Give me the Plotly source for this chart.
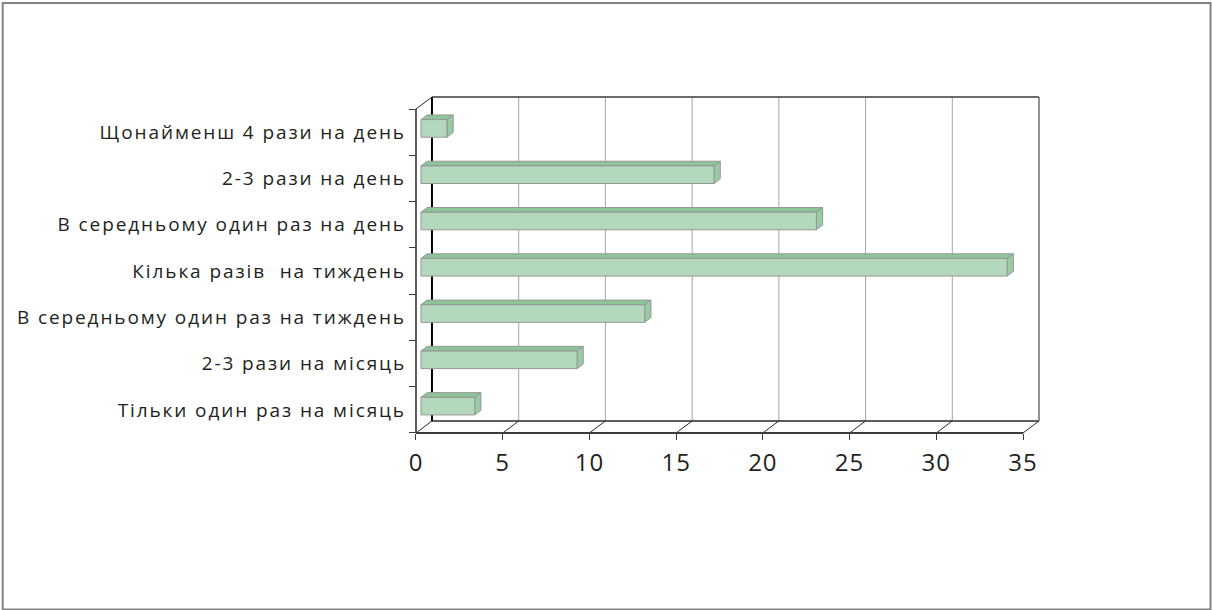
import plotly.graph_objects as go

# Survey categories (top to bottom) and their shares, %
categories = [
    "Щонайменш 4 рази на день",
    "2-3 рази на день",
    "В середньому один раз на день",
    "Кілька разів \u00a0на тиждень",
    "В середньому один раз на тиждень",
    "2-3 рази на місяць",
    "Тільки один раз на місяць",
]
values = [1.5, 16.9, 22.8, 33.8, 12.9, 9.0, 3.1]
x_ticks = [0, 5, 10, 15, 20, 25, 30, 35]

# ---- geometry of the oblique "3-D" box ----
W, H = 1212, 610
X_MAX = 35
N = len(categories)
PX_X = 17.36          # pixels per value unit on the front plane
PX_Y = 46.24          # pixels per category band
ORIGIN = (415.7, 432.7)
DEPTH_PX = (16.0, 12.0)
DX = DEPTH_PX[0] / PX_X
DY = DEPTH_PX[1] / PX_Y
PAD = 6
BAR_FRONT, BAR_BACK = 0.31, 0.70   # bar depth as fraction of box depth
BAR_HALF = 0.19                    # half bar thickness in category units

x_lo, x_hi = -PAD / PX_X, X_MAX + DX + PAD / PX_X
y_lo, y_hi = -PAD / PX_Y, N + DY + PAD / PX_Y
left = ORIGIN[0] - PAD
right = ORIGIN[0] + (X_MAX + DX) * PX_X + PAD
bottom = ORIGIN[1] + PAD
top = ORIGIN[1] - (N + DY) * PX_Y - PAD
pw, ph = right - left, bottom - top

C_FRONT = "rgb(180,216,188)"
C_TOP = "rgb(141,197,152)"
C_SIDE = "rgb(152,203,163)"
C_EDGE = "rgb(150,150,150)"
C_DARK = "rgb(40,40,40)"
C_GRID = "rgb(165,165,165)"

fig = go.Figure()


def add_line(xs, ys, color, width):
    fig.add_trace(go.Scatter(x=xs, y=ys, mode="lines", hoverinfo="skip",
                             line=dict(color=color, width=width),
                             showlegend=False))


# back-wall gridlines
gx, gy = [], []
for t in x_ticks[1:-1]:
    gx += [t + DX, t + DX, None]
    gy += [DY, N + DY, None]
add_line(gx, gy, C_GRID, 1)

# floor lines running into depth
fx, fy = [], []
for t in x_ticks:
    fx += [t, t + DX, None]
    fy += [0, DY, None]
add_line(fx, fy, C_DARK, 1)

# back wall / floor outline
add_line([DX, X_MAX + DX], [DY, DY], C_DARK, 1.5)
add_line([DX, DX], [DY, N + DY], "black", 2)
add_line([DX, X_MAX + DX], [N + DY, N + DY], "rgb(60,60,60)", 1.5)
add_line([X_MAX + DX, X_MAX + DX], [DY, N + DY], "rgb(110,110,110)", 1.5)
# left wall outline
add_line([0, DX], [N, N + DY], C_DARK, 1)
add_line([0, 0], [0, N], C_DARK, 1.5)
# front floor edge
add_line([0, X_MAX], [0, 0], "rgb(60,60,60)", 2)


def add_poly(xs, ys, fill):
    fig.add_trace(go.Scatter(x=xs + [xs[0]], y=ys + [ys[0]], mode="lines",
                             fill="toself", fillcolor=fill, hoverinfo="skip",
                             line=dict(color=C_EDGE, width=1),
                             showlegend=False))


# bars: front face, top face and end face of each prism
for k, (cat, v) in enumerate(zip(categories, values)):
    c = N - k - 0.5
    fx0, fy0 = BAR_FRONT * DX, BAR_FRONT * DY
    bx0, by0 = BAR_BACK * DX, BAR_BACK * DY
    y_b, y_t = c - BAR_HALF, c + BAR_HALF
    add_poly([fx0, v + fx0, v + bx0, bx0],
             [y_t + fy0, y_t + fy0, y_t + by0, y_t + by0], C_TOP)
    add_poly([v + fx0, v + bx0, v + bx0, v + fx0],
             [y_b + fy0, y_b + by0, y_t + by0, y_t + fy0], C_SIDE)
    add_poly([fx0, v + fx0, v + fx0, fx0],
             [y_b + fy0, y_b + fy0, y_t + fy0, y_t + fy0], C_FRONT)

# dummy trace on the tick-only axis
fig.add_trace(go.Scatter(x=[0], y=[0], yaxis="y2", mode="markers",
                         marker=dict(opacity=0), hoverinfo="skip",
                         showlegend=False))

x_pos = (0 - y_lo) / (y_hi - y_lo)
y_pos = (0 - x_lo) / (x_hi - x_lo)

spaced = ['<span style="letter-spacing:1.9px">%s</span>' % c for c in categories]
spaced_x = ['<span style="letter-spacing:1px">%d</span>' % t for t in x_ticks]

fig.update_layout(
    width=W, height=H,
    margin=dict(l=left, r=W - right, t=top, b=H - bottom, pad=0),
    paper_bgcolor="white", plot_bgcolor="rgba(0,0,0,0)",
    font=dict(family="Open Sans", color="rgb(35,31,32)"),
    xaxis=dict(range=[x_lo, x_hi], anchor="free", position=x_pos,
               tickvals=x_ticks, ticktext=spaced_x,
               ticks="outside", ticklen=6, tickcolor="rgb(60,60,60)",
               tickwidth=1, showgrid=False, zeroline=False, showline=False,
               tickfont=dict(size=24), ticklabelstandoff=2),
    yaxis=dict(range=[y_lo, y_hi], anchor="free", position=y_pos,
               tickvals=[N - k - 0.5 for k in range(N)], ticktext=spaced,
               ticks="", showgrid=False, zeroline=False, showline=False,
               tickfont=dict(size=19), ticklabelstandoff=10),
    yaxis2=dict(range=[y_lo, y_hi], overlaying="y", anchor="free",
                position=y_pos, side="left",
                tickvals=list(range(N + 1)), showticklabels=False,
                ticks="outside", ticklen=7, tickcolor="rgb(60,60,60)",
                tickwidth=1, showgrid=False, zeroline=False, showline=False),
    shapes=[dict(type="rect", xref="paper", yref="paper",
                 x0=(2 - left) / pw, x1=(1211 - left) / pw,
                 y0=(bottom - 609) / ph, y1=(bottom - 3) / ph,
                 line=dict(color="rgb(130,130,130)", width=2),
                 fillcolor="rgba(0,0,0,0)", layer="below")],
)

fig.write_html("out.html")
